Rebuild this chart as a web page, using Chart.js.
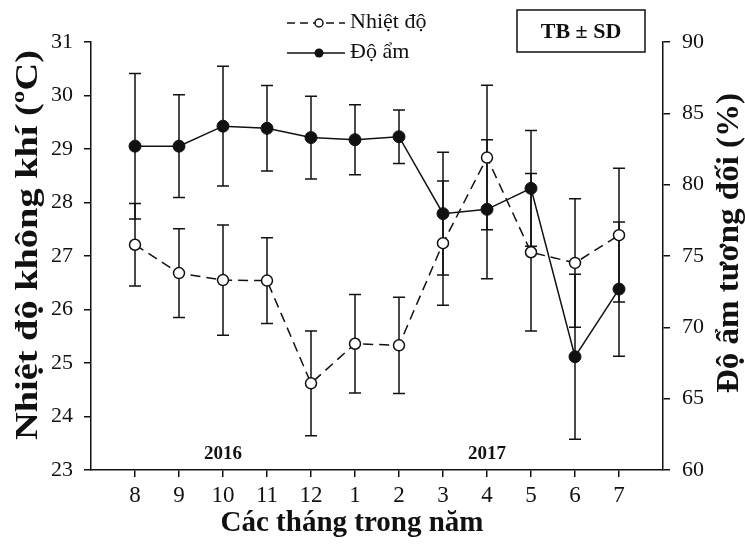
<!DOCTYPE html>
<html lang="vi">
<head>
  <meta charset="UTF-8">
  <title>Nhiệt độ và độ ẩm theo tháng</title>
  <script src="https://cdn.jsdelivr.net/npm/chart.js@4.4.0/dist/chart.umd.min.js"></script>
  <style>
    html, body { margin: 0; padding: 0; background: #fff; }
    #wrap { width: 745px; height: 545px; }
  </style>
</head>
<body>
  <div id="wrap"><canvas id="chart" width="745" height="545"></canvas></div>

  <script>
    // months from Aug 2016 to Jul 2017
    const months = ['8', '9', '10', '11', '12', '1', '2', '3', '4', '5', '6', '7'];
    const tempMean = [27.21, 26.68, 26.55, 26.54, 24.62, 25.36, 25.33, 27.24, 28.84, 27.07, 26.87, 27.39];
    const tempSD = [0.77, 0.83, 1.03, 0.80, 0.98, 0.92, 0.90, 1.16, 1.35, 1.47, 1.20, 1.25];
    const humMean = [82.7, 82.7, 84.1, 83.95, 83.3, 83.15, 83.36, 77.97, 78.27, 79.74, 67.94, 72.68];
    const humSD = [5.1, 3.6, 4.2, 3.0, 2.9, 2.45, 1.87, 4.3, 4.87, 4.06, 5.78, 4.7];
    const years = ['2016', '2017'];
    const tempTicks = [23, 31];   // min, max
    const humTicks = [60, 90];

    const FONT = "'Liberation Serif', 'Times New Roman', serif";

    const toPoints = arr => arr.map((v, i) => ({ x: i + 1, y: v }));

    // error bars, drawn before the lines so open markers cover them
    const errorBars = {
      id: 'errorBars',
      beforeDatasetsDraw(chart) {
        const ctx = chart.ctx;
        ctx.save();
        ctx.strokeStyle = '#111';
        ctx.lineWidth = 1.5;
        chart.data.datasets.forEach((ds, di) => {
          const meta = chart.getDatasetMeta(di);
          const scale = chart.scales[ds.yAxisID];
          ds.sd.forEach((sd, i) => {
            const x = meta.data[i].x;
            const m = ds.data[i].y;
            const yt = scale.getPixelForValue(m + sd);
            const yb = scale.getPixelForValue(m - sd);
            ctx.beginPath();
            ctx.moveTo(x, yt); ctx.lineTo(x, yb);
            ctx.moveTo(x - 6, yt); ctx.lineTo(x + 6, yt);
            ctx.moveTo(x - 6, yb); ctx.lineTo(x + 6, yb);
            ctx.stroke();
          });
        });
        ctx.restore();
      }
    };

    // vertical title read bottom to top, stretched to a given length
    function vTitle(ctx, text, cx, cy, len) {
      ctx.save();
      ctx.translate(cx, cy);
      ctx.rotate(-Math.PI / 2);
      const w = ctx.measureText(text).width;
      ctx.scale(len / w, 1);
      ctx.fillText(text, 0, 0);
      ctx.restore();
    }

    // titles, legend, SD box and year labels
    const extras = {
      id: 'extras',
      afterDraw(chart) {
        const ctx = chart.ctx;
        const xs = chart.scales.x, ys = chart.scales.y;
        ctx.save();
        ctx.fillStyle = '#111';
        ctx.strokeStyle = '#111';
        ctx.textBaseline = 'middle';
        ctx.textAlign = 'center';

        // axis titles
        ctx.font = 'bold 32px ' + FONT;
        vTitle(ctx, 'Nhiệt độ không khí (ºC)', 29, 245, 390);
        vTitle(ctx, 'Độ ẩm tương đối (%)', 730, 243, 300);
        ctx.font = 'bold 29px ' + FONT;
        ctx.fillText('Các tháng trong năm', 352, 524);

        // legend
        ctx.lineWidth = 1.5;
        ctx.setLineDash([8, 5]);
        ctx.beginPath(); ctx.moveTo(287, 23); ctx.lineTo(345, 23); ctx.stroke();
        ctx.setLineDash([]);
        ctx.beginPath(); ctx.arc(319, 23, 4, 0, Math.PI * 2);
        ctx.fillStyle = '#fff'; ctx.fill(); ctx.stroke();
        ctx.beginPath(); ctx.moveTo(287, 53); ctx.lineTo(345, 53); ctx.stroke();
        ctx.beginPath(); ctx.arc(319, 53, 4.5, 0, Math.PI * 2);
        ctx.fillStyle = '#111'; ctx.fill();
        ctx.font = '22px ' + FONT;
        ctx.textAlign = 'left';
        ctx.fillText('Nhiệt độ', 350, 22);
        ctx.fillText('Độ ẩm', 350, 52);

        // TB ± SD box
        ctx.lineWidth = 1.5;
        ctx.strokeRect(517, 10, 128, 42);
        ctx.font = 'bold 22px ' + FONT;
        ctx.textAlign = 'center';
        ctx.fillText('TB ± SD', 581, 32);

        // year labels
        ctx.font = 'bold 19px ' + FONT;
        ctx.fillText(years[0], xs.getPixelForValue(3), ys.getPixelForValue(23.3));
        ctx.fillText(years[1], xs.getPixelForValue(9), ys.getPixelForValue(23.3));
        ctx.restore();
      }
    };

    const axisLine = { display: true, color: '#111', width: 1.5 };
    const tickGrid = { drawOnChartArea: false, drawTicks: true, tickLength: 7, color: '#111', lineWidth: 1.5 };
    const tickFont = { family: FONT, size: 22 };

    new Chart(document.getElementById('chart'), {
      type: 'line',
      data: {
        datasets: [
          {
            label: 'Nhiệt độ',
            data: toPoints(tempMean),
            sd: tempSD,
            yAxisID: 'y',
            borderColor: '#111',
            borderWidth: 1.5,
            borderDash: [10, 6],
            pointRadius: 5.5,
            pointBackgroundColor: '#fff',
            pointBorderColor: '#111',
            pointBorderWidth: 1.5,
            tension: 0
          },
          {
            label: 'Độ ẩm',
            data: toPoints(humMean),
            sd: humSD,
            yAxisID: 'y1',
            borderColor: '#111',
            borderWidth: 1.5,
            pointRadius: 6,
            pointBackgroundColor: '#111',
            pointBorderColor: '#111',
            pointBorderWidth: 1,
            tension: 0
          }
        ]
      },
      options: {
        responsive: false,
        animation: false,
        layout: { padding: { top: 42, left: 0, right: 0, bottom: 0 } },
        plugins: { legend: { display: false }, tooltip: { enabled: false } },
        scales: {
          x: {
            type: 'linear',
            min: 0,
            max: months.length + 1,
            afterBuildTicks: s => { s.ticks = months.map((m, i) => ({ value: i + 1 })); },
            afterFit: s => { s.height = 75; },
            ticks: {
              callback: v => months[v - 1],
              font: { family: FONT, size: 23 },
              color: '#111',
              padding: 5,
              maxRotation: 0,
              autoSkip: false
            },
            grid: tickGrid,
            border: axisLine
          },
          y: {
            position: 'left',
            min: tempTicks[0],
            max: tempTicks[1],
            afterFit: s => { s.width = 91; },
            ticks: { stepSize: 1, font: tickFont, color: '#111', padding: 11 },
            grid: tickGrid,
            border: axisLine
          },
          y1: {
            position: 'right',
            min: humTicks[0],
            max: humTicks[1],
            afterFit: s => { s.width = 82; },
            ticks: { stepSize: 5, font: tickFont, color: '#111', padding: 12 },
            grid: tickGrid,
            border: axisLine
          }
        }
      },
      plugins: [errorBars, extras]
    });
  </script>
</body>
</html>
